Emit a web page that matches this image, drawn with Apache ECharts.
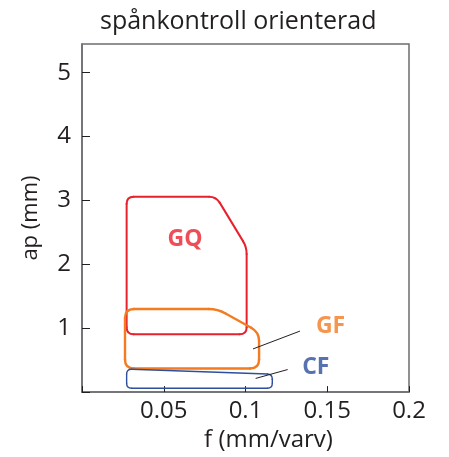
<!DOCTYPE html>
<html>
<head>
<meta charset="utf-8">
<script src="https://cdn.jsdelivr.net/npm/echarts@6/dist/echarts.min.js"></script>
<style>
  html, body { margin: 0; padding: 0; background: #fff; }
  #chart { width: 449px; height: 457px; }
</style>
</head>
<body>
<div id="chart"></div>
<script>
// outline corners of each area, f (mm/varv) and ap (mm)
const gqF = [0.0273, 0.0273, 0.082, 0.1007, 0.1007];
const gqAp = [0.907, 3.06, 3.06, 2.27, 0.907];
const gfF = [0.0263, 0.0263, 0.083, 0.1083, 0.1083];
const gfAp = [0.37, 1.30, 1.30, 0.94, 0.37];
const cfF = [0.0273, 0.0273, 0.1164, 0.1164];
const cfAp = [0.06, 0.36, 0.28, 0.06];

// area labels
const labelNames = ['GQ', 'GF', 'CF'];
const labelF = [0.063, 0.152, 0.143];
const labelAp = [2.39, 1.03, 0.38];

// leader lines [f0, ap0, f1, ap1]
const gfLeader = [0.1333, 0.955, 0.1046, 0.676];
const cfLeader = [0.1258, 0.353, 0.1062, 0.214];

const xTickLabels = ['0.05', '0.1', '0.15', '0.2'];
const yTickLabels = ['1', '2', '3', '4', '5'];

const fontFamily = '"Open Sans", "Noto Sans", sans-serif';
const textColor = '#231f20';

const areas = [
    { f: gqF, ap: gqAp, color: '#e8222d', width: 2, radius: 7 },
    { f: gfF, ap: gfAp, color: '#f47b20', width: 2.4, radius: 9 },
    { f: cfF, ap: cfAp, color: '#2d4f9e', width: 1.4, radius: 5 }
];

function roundedOutline(pts, r, style) {
    const n = pts.length;
    const children = [];
    const starts = [], ends = [];
    for (let i = 0; i < n; i++) {
        const prev = pts[(i - 1 + n) % n], cur = pts[i], next = pts[(i + 1) % n];
        const dp = [prev[0] - cur[0], prev[1] - cur[1]];
        const dn = [next[0] - cur[0], next[1] - cur[1]];
        const lp = Math.hypot(dp[0], dp[1]), ln = Math.hypot(dn[0], dn[1]);
        const rr = Math.min(r, lp / 2, ln / 2);
        const a = [cur[0] + dp[0] / lp * rr, cur[1] + dp[1] / lp * rr];
        const b = [cur[0] + dn[0] / ln * rr, cur[1] + dn[1] / ln * rr];
        starts.push(a);
        ends.push(b);
        children.push({
            type: 'bezierCurve',
            shape: { x1: a[0], y1: a[1], x2: b[0], y2: b[1], cpx1: cur[0], cpy1: cur[1] },
            style: style
        });
    }
    for (let i = 0; i < n; i++) {
        const b = ends[i], a = starts[(i + 1) % n];
        children.push({
            type: 'line',
            shape: { x1: b[0], y1: b[1], x2: a[0], y2: a[1] },
            style: style
        });
    }
    return children;
}

const chart = echarts.init(document.getElementById('chart'));

const series = [];

series.push({
    type: 'custom',
    silent: true,
    data: areas.map((a, i) => [i]),
    renderItem: function (params, api) {
        const area = areas[params.dataIndex];
        const pts = area.f.map((f, k) => api.coord([f, area.ap[k]]));
        return {
            type: 'group',
            children: roundedOutline(pts, area.radius, {
                stroke: area.color,
                lineWidth: area.width,
                fill: null,
                lineCap: 'round'
            })
        };
    },
    z: 3
});

[gfLeader, cfLeader].forEach(l => {
    series.push({
        type: 'line',
        data: [[l[0], l[1]], [l[2], l[3]]],
        symbol: 'none',
        silent: true,
        lineStyle: { color: '#231f20', width: 1 },
        z: 4
    });
});

series.push({
    type: 'scatter',
    symbolSize: 0,
    silent: true,
    data: labelNames.map((name, i) => ({
        name: name,
        value: [labelF[i], labelAp[i]],
        label: { color: areas[i].color }
    })),
    label: {
        show: true,
        position: 'inside',
        formatter: p => p.name,
        fontFamily: fontFamily,
        fontWeight: 'bold',
        fontSize: 23
    },
    z: 5
});

const option = {
    backgroundColor: '#ffffff',
    animation: false,
    title: {
        text: 'spånkontroll orienterad',
        left: 95,
        top: 4,
        textStyle: {
            fontFamily: fontFamily,
            fontWeight: 'normal',
            fontSize: 25,
            color: textColor
        }
    },
    grid: {
        left: 82,
        right: 40,
        top: 44,
        bottom: 62,
        show: true,
        borderColor: '#6d6e71',
        borderWidth: 1.5,
        backgroundColor: 'transparent'
    },
    xAxis: {
        type: 'value',
        min: 0,
        max: 0.2,
        interval: 0.05,
        name: 'f (mm/varv)',
        nameLocation: 'middle',
        nameGap: 31,
        nameTextStyle: { fontFamily: fontFamily, fontSize: 24, color: textColor, padding: [0, 0, 0, 46] },
        axisLine: { show: true, lineStyle: { color: '#6d6e71', width: 1.5 } },
        axisTick: { show: true, inside: true, length: 6, lineStyle: { color: '#231f20', width: 1 } },
        splitLine: { show: false },
        axisLabel: {
            margin: 7,
            fontFamily: fontFamily,
            fontSize: 24,
            color: textColor,
            formatter: function (v) {
                const i = Math.round(v / 0.05) - 1;
                return i >= 0 && i < xTickLabels.length ? xTickLabels[i] : '';
            }
        }
    },
    yAxis: {
        type: 'value',
        min: 0,
        max: 5.45,
        interval: 1,
        name: 'ap (mm)',
        nameLocation: 'middle',
        nameGap: 40,
        nameTextStyle: { fontFamily: fontFamily, fontSize: 22, color: textColor },
        axisLine: { show: true, lineStyle: { color: '#6d6e71', width: 1.5 } },
        axisTick: { show: true, inside: true, length: 8, lineStyle: { color: '#231f20', width: 1 } },
        splitLine: { show: false },
        axisLabel: {
            margin: 11,
            fontFamily: fontFamily,
            fontSize: 24,
            color: textColor,
            showMaxLabel: false,
            formatter: function (v) {
                if (Math.abs(v - Math.round(v)) > 1e-6) return '';
                const i = Math.round(v) - 1;
                return i >= 0 && i < yTickLabels.length ? yTickLabels[i] : '';
            }
        }
    },
    series: series
};

chart.setOption(option);
</script>
</body>
</html>
